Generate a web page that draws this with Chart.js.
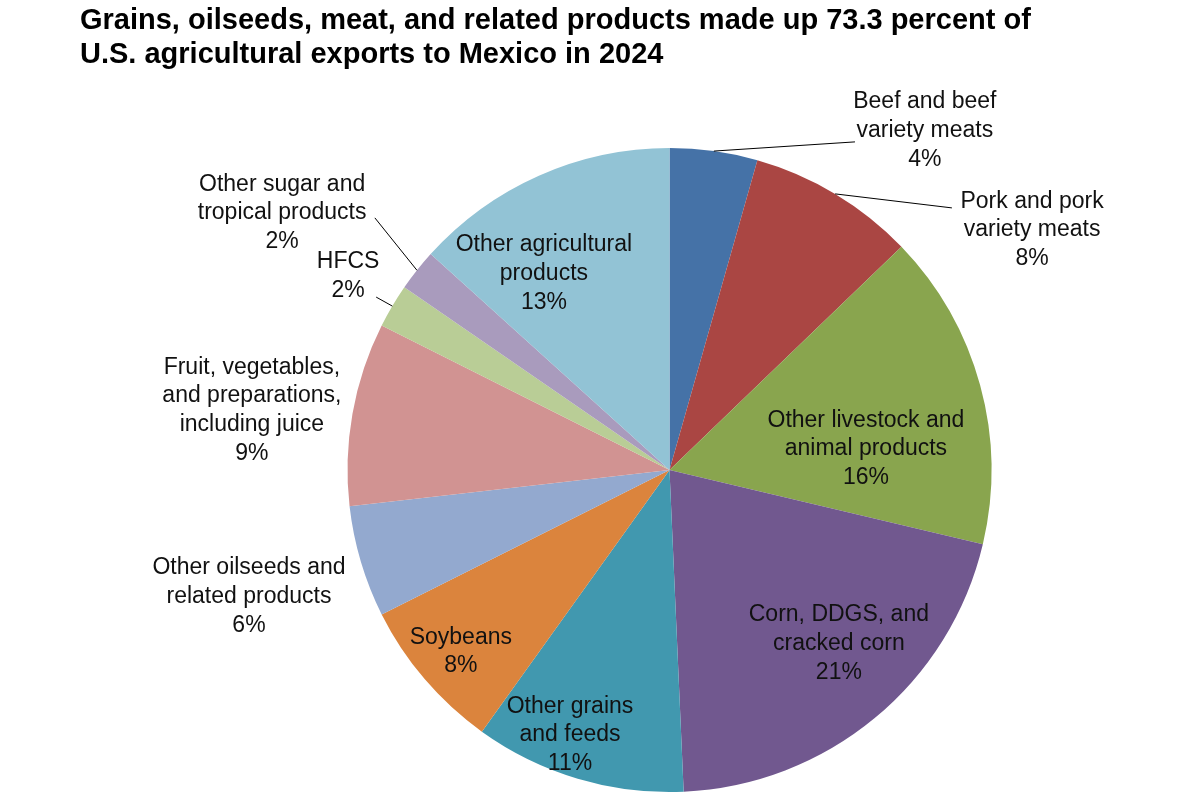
<!DOCTYPE html>
<html>
<head>
<meta charset="utf-8">
<script src="https://cdn.jsdelivr.net/npm/chart.js@4"></script>
<style>
  html, body { margin: 0; padding: 0; background: #ffffff; }
  #wrap { position: relative; width: 1200px; height: 800px; }
  #title {
    position: absolute; left: 80px; top: 2px;
    font-family: "Liberation Sans", Arial, sans-serif; font-weight: bold;
    font-size: 29px; line-height: 34px; color: #000;
  }
</style>
</head>
<body>
<div id="wrap">
  <canvas id="c"></canvas>
  <div id="title">Grains, oilseeds, meat, and related products made up 73.3 percent of<br>U.S. agricultural exports to Mexico in 2024</div>
</div>
<script>
// ---- data ----
const categories = [
  "Beef and beef variety meats",
  "Pork and pork variety meats",
  "Other livestock and animal products",
  "Corn, DDGS, and cracked corn",
  "Other grains and feeds",
  "Soybeans",
  "Other oilseeds and related products",
  "Fruit, vegetables, and preparations, including juice",
  "HFCS",
  "Other sugar and tropical products",
  "Other agricultural products"
];
const labelLines = [
  ["Beef and beef", "variety meats"],
  ["Pork and pork", "variety meats"],
  ["Other livestock and", "animal products"],
  ["Corn, DDGS, and", "cracked corn"],
  ["Other grains", "and feeds"],
  ["Soybeans"],
  ["Other oilseeds and", "related products"],
  ["Fruit, vegetables,", "and preparations,", "including juice"],
  ["HFCS"],
  ["Other sugar and", "tropical products"],
  ["Other agricultural", "products"]
];
const shares = [4.4, 8.4, 15.9, 20.6, 10.6, 7.7, 5.6, 9.2, 2.2, 2.1, 13.3];

// ---- styles / layout (kept separate from data) ----
const colors = ["#4572A7", "#AA4643", "#89A54E", "#71588F", "#4198AF", "#DB843D",
                "#93A9CF", "#D19392", "#B9CD96", "#A99BBD", "#92C3D5"];
// label centre offsets in units of the pie radius; optional leader end point
const labelLayout = [
  { dx: 0.793, dy: -1.053, leader: [0.576, -1.019] },
  { dx: 1.126, dy: -0.745, leader: [0.877, -0.814] },
  { dx: 0.610, dy: -0.065 },
  { dx: 0.526, dy: 0.540 },
  { dx: -0.309, dy: 0.823 },
  { dx: -0.648, dy: 0.564 },
  { dx: -1.306, dy: 0.394 },
  { dx: -1.297, dy: -0.185 },
  { dx: -0.998, dy: -0.601, leader: [-0.911, -0.537] },
  { dx: -1.203, dy: -0.798, leader: [-0.915, -0.783] },
  { dx: -0.390, dy: -0.609 }
];
const LABEL_FONT = '23px "Liberation Sans", Arial, sans-serif';
const LINE_H = 28.8;

const labelPlugin = {
  id: 'pieLabels',
  afterDatasetsDraw(chart) {
    const ctx = chart.ctx;
    const meta = chart.getDatasetMeta(0);
    ctx.save();
    meta.data.forEach((arc, i) => {
      const p = arc.getProps(['x', 'y', 'startAngle', 'endAngle', 'outerRadius'], true);
      const r = p.outerRadius;
      const lay = labelLayout[i];
      if (lay.leader) {
        const mid = (p.startAngle + p.endAngle) / 2;
        ctx.beginPath();
        ctx.moveTo(p.x + Math.cos(mid) * r, p.y + Math.sin(mid) * r);
        ctx.lineTo(p.x + lay.leader[0] * r, p.y + lay.leader[1] * r);
        ctx.strokeStyle = '#000';
        ctx.lineWidth = 1;
        ctx.stroke();
      }
      const lines = labelLines[i].concat([Math.round(shares[i]) + '%']);
      const cx = p.x + lay.dx * r;
      const cy = p.y + lay.dy * r;
      ctx.font = LABEL_FONT;
      ctx.fillStyle = '#111';
      ctx.textAlign = 'center';
      ctx.textBaseline = 'middle';
      const top = cy - (lines.length - 1) * LINE_H / 2;
      lines.forEach((t, k) => ctx.fillText(t, cx, top + k * LINE_H));
    });
    ctx.restore();
  }
};

new Chart(document.getElementById('c'), {
  type: 'pie',
  data: {
    labels: categories,
    datasets: [{
      data: shares,
      backgroundColor: colors,
      borderWidth: 0
    }]
  },
  options: {
    responsive: true,
    maintainAspectRatio: false,
    animation: false,
    layout: { padding: { top: 148, bottom: 8, left: 347.5, right: 208.5 } },
    plugins: {
      legend: { display: false },
      tooltip: { enabled: false },
      title: { display: false }
    }
  },
  plugins: [labelPlugin]
});
</script>
</body>
</html>
